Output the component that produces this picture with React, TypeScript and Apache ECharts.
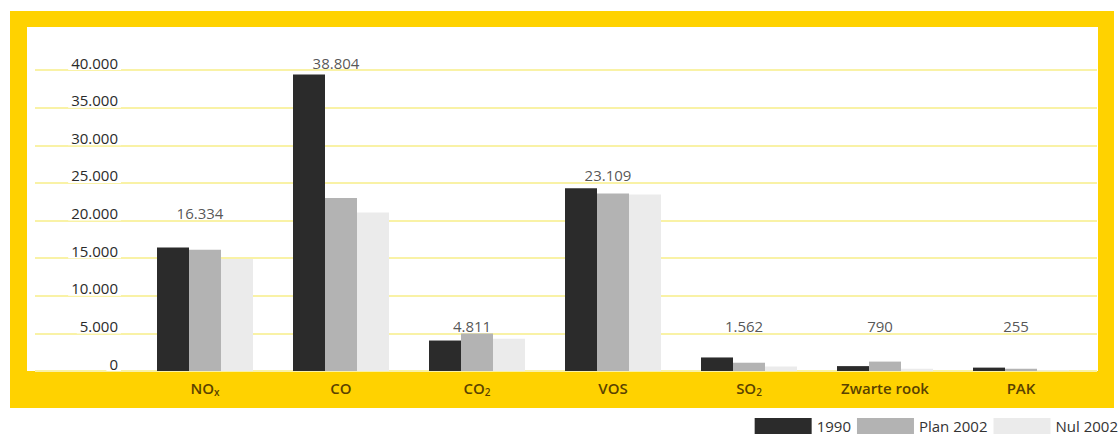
import React, { useEffect, useRef } from "react";
import * as echarts from "echarts";

const categories = ["NOx", "CO", "CO2", "VOS", "SO2", "Zwarte rook", "PAK"];
const series1990 = [16400, 39400, 4050, 24300, 1800, 650, 450];
const seriesPlan2002 = [16100, 23000, 4980, 23600, 1100, 1250, 300];
const seriesNul2002 = [14900, 21050, 4280, 23450, 600, 300, 100];
const labels1990 = ["16.334", "38.804", "4.811", "23.109", "1.562", "790", "255"];
const labelAnchors = [20000, 40000, 5000, 25000, 5000, 5000, 5000];
const yTicks = { min: 0, max: 40000, interval: 5000 };
const legendNames = ["1990", "Plan 2002", "Nul 2002"];

const FONT = "'Open Sans', 'Noto Sans', sans-serif";
const YELLOW = "#ffd200";
const BROWN = "#5a4200";

const fmt = (v: number) => String(v).replace(/\B(?=(\d{3})+(?!\d))/g, ".");

const catLabel = (c: string) => {
  if (c === "NOx") return "{m|NO}{s|x}";
  if (c === "CO2") return "{m|CO}{s|2}";
  if (c === "SO2") return "{m|SO}{s|2}";
  return "{m|" + c + "}";
};

export default function App() {
  const ref = useRef<HTMLDivElement>(null);
  useEffect(() => {
    document.body.style.margin = "0";
    const chart = echarts.init(ref.current!, null, { renderer: "svg" });
    const gridPos = { top: 70, bottom: 65 };
    chart.setOption({
      animation: false,
      backgroundColor: "#ffffff",
      textStyle: { fontFamily: FONT },
      graphic: [
        { type: "rect", z: -10, shape: { x: 10, y: 11, width: 1104, height: 397 }, style: { fill: YELLOW } },
        { type: "rect", z: -9, shape: { x: 27, y: 27, width: 1071, height: 344 }, style: { fill: "#ffffff" } },
      ],
      legend: {
        data: legendNames,
        right: 2,
        top: 418,
        padding: 0,
        icon: "rect",
        itemWidth: 57,
        itemHeight: 16,
        itemGap: 6,
        textStyle: { fontFamily: FONT, fontSize: 15, color: "#333" },
      },
      grid: [
        { left: 35, right: 23, ...gridPos },
        { left: 137, right: 31, ...gridPos },
      ],
      xAxis: [
        { gridIndex: 0, type: "category", data: categories, show: false },
        {
          gridIndex: 1,
          type: "category",
          data: categories,
          axisLine: { show: false },
          axisTick: { show: false },
          axisLabel: {
            margin: 8,
            formatter: (v: string) => catLabel(v),
            rich: {
              m: { fontFamily: FONT, fontSize: 15, fontWeight: 600, color: BROWN, lineHeight: 18 },
              s: { fontFamily: FONT, fontSize: 10, fontWeight: 600, color: BROWN, lineHeight: 10, verticalAlign: "bottom" },
            },
          },
        },
      ],
      yAxis: [
        {
          gridIndex: 0,
          type: "value",
          ...yTicks,
          axisLine: { show: false },
          axisTick: { show: false },
          axisLabel: { show: false },
          splitLine: { lineStyle: { color: "#f9f2a6", width: 2 } },
        },
        {
          gridIndex: 1,
          type: "value",
          ...yTicks,
          z: 3,
          axisLine: { show: false },
          axisTick: { show: false },
          splitLine: { show: false },
          axisLabel: {
            margin: 16,
            fontFamily: FONT,
            fontSize: 15,
            color: "#2a2a2a",
            verticalAlign: "bottom",
            lineHeight: 15,
            backgroundColor: "#ffffff",
            padding: [0, 3, 0, 3],
            formatter: (v: number) => fmt(v),
          },
        },
      ],
      series: [
        { name: legendNames[0], type: "bar", xAxisIndex: 1, yAxisIndex: 1, data: series1990, barWidth: 32, barGap: "0%", itemStyle: { color: "#2b2b2b" } },
        { name: legendNames[1], type: "bar", xAxisIndex: 1, yAxisIndex: 1, data: seriesPlan2002, barWidth: 32, barGap: "0%", itemStyle: { color: "#b3b3b3" } },
        { name: legendNames[2], type: "bar", xAxisIndex: 1, yAxisIndex: 1, data: seriesNul2002, barWidth: 32, barGap: "0%", itemStyle: { color: "#ebebeb" } },
        {
          type: "scatter",
          xAxisIndex: 1,
          yAxisIndex: 1,
          symbolSize: 0,
          silent: true,
          z: 5,
          data: labelAnchors,
          label: {
            show: true,
            position: "top",
            distance: 0,
            offset: [-5, 0],
            fontFamily: FONT,
            fontSize: 15,
            color: "#2a2a2a",
            lineHeight: 15,
            formatter: (p: any) => labels1990[p.dataIndex],
          },
        },
      ],
    });
    return () => chart.dispose();
  }, []);
  return <div ref={ref} style={{ width: 1120, height: 436 }} />;
}
